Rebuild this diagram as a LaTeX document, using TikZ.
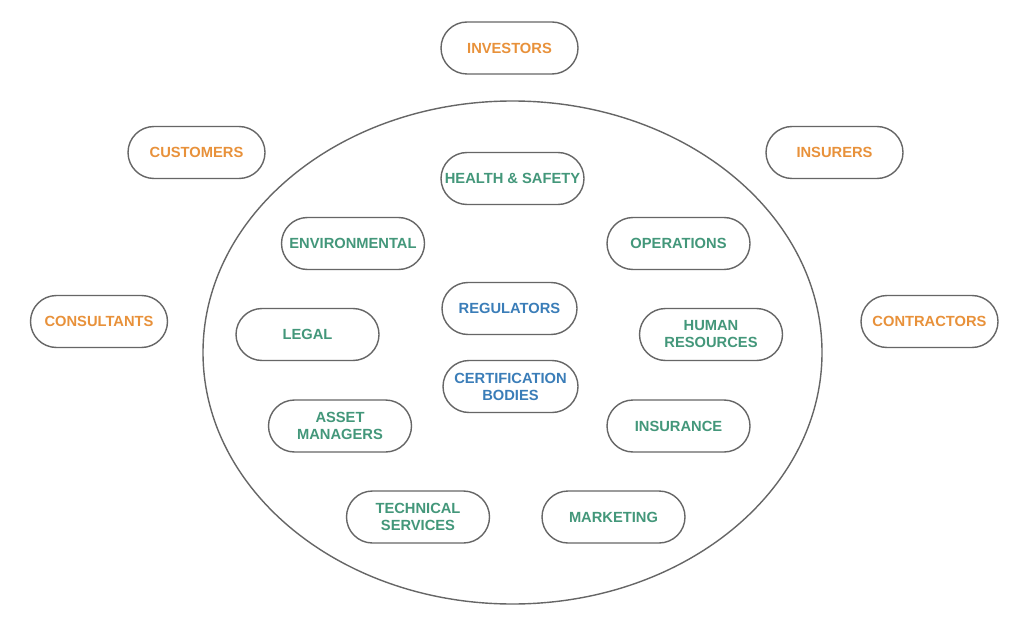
\documentclass[tikz,border=0pt]{standalone}
\usepackage{fontspec}
\setmainfont{Liberation Sans}
\usetikzlibrary{shapes.geometric}
\definecolor{orng}{HTML}{E8913A}
\definecolor{grn}{HTML}{43977A}
\definecolor{blu}{HTML}{3A7DB8}
\definecolor{edge}{HTML}{666666}
\begin{document}
\begin{tikzpicture}[x=1pt,y=-1pt,
  pill/.style={draw=edge, line width=1.4pt, rounded corners=26pt, minimum height=52pt, inner sep=2pt, align=center, font=\fontsize{14.7}{17}\selectfont\bfseries, fill=white},
  outer/.style={pill, minimum width=137pt, text=orng},
  inner/.style={pill, minimum width=143pt, text=grn},
  core/.style={pill, minimum width=135pt, text=blu}]
\useasboundingbox (0,0) rectangle (1024,636);
\fill[white] (0,0) rectangle (1024,636);
\node[draw=edge, line width=1.4pt, ellipse, minimum width=619pt, minimum height=503pt, inner sep=0pt] (org) at (512.5,352.5) {};
\node[outer] (investors) at (509.5,48) {INVESTORS};
\node[outer] (customers) at (196.5,152.5) {CUSTOMERS};
\node[outer] (insurers) at (834.5,152.5) {INSURERS};
\node[outer] (consultants) at (99,321.5) {CONSULTANTS};
\node[outer] (contractors) at (929.5,321.5) {CONTRACTORS};
\node[inner] (hs) at (512.5,178.5) {HEALTH \& SAFETY};
\node[inner] (env) at (353,243.5) {ENVIRONMENTAL};
\node[inner] (ops) at (678.5,243.5) {OPERATIONS};
\node[core] (reg) at (509.5,308.5) {REGULATORS};
\node[inner] (legal) at (307.5,334.5) {LEGAL};
\node[inner] (hr) at (711,334.5) {HUMAN\\RESOURCES};
\node[core] (cert) at (510.5,386.5) {CERTIFICATION\\BODIES};
\node[inner] (asset) at (340,426) {ASSET\\MANAGERS};
\node[inner] (insurance) at (678.5,426) {INSURANCE};
\node[inner] (tech) at (418,517) {TECHNICAL\\SERVICES};
\node[inner] (mkt) at (613.5,517) {MARKETING};
\end{tikzpicture}
\end{document}
